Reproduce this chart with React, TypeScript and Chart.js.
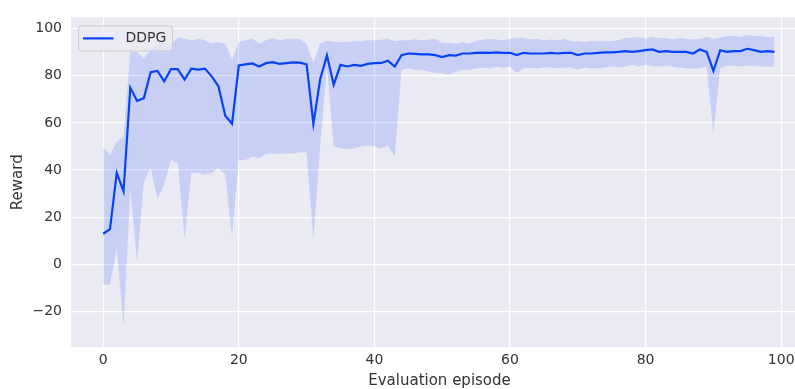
import React, { useEffect, useRef } from "react";
import { Chart, registerables } from "chart.js";

Chart.register(...registerables);

const episodes = [
  0, 1, 2, 3, 4, 5, 6, 7, 8, 9, 10, 11, 12, 13, 14, 15, 16, 17, 18, 19,
  20, 21, 22, 23, 24, 25, 26, 27, 28, 29, 30, 31, 32, 33, 34, 35, 36, 37, 38, 39,
  40, 41, 42, 43, 44, 45, 46, 47, 48, 49, 50, 51, 52, 53, 54, 55, 56, 57, 58, 59,
  60, 61, 62, 63, 64, 65, 66, 67, 68, 69, 70, 71, 72, 73, 74, 75, 76, 77, 78, 79,
  80, 81, 82, 83, 84, 85, 86, 87, 88, 89, 90, 91, 92, 93, 94, 95, 96, 97, 98, 99,
];

const meanReward = [
  13, 15, 38.8, 31, 74.9, 69.3, 70.5, 81.5, 82, 77.6,
  82.8, 82.8, 78.3, 83, 82.6, 83, 79.7, 75.5, 63, 59.6,
  84.3, 84.8, 85.2, 83.9, 85.3, 85.7, 85, 85.3, 85.6, 85.5,
  84.8, 59.6, 78.5, 88.6, 76.2, 84.6, 83.9, 84.6, 84.2, 85,
  85.3, 85.4, 86.3, 83.9, 88.7, 89.4, 89.2, 89, 89, 88.7,
  87.9, 88.7, 88.5, 89.4, 89.4, 89.7, 89.8, 89.7, 89.9, 89.7,
  89.7, 88.7, 89.7, 89.4, 89.4, 89.4, 89.7, 89.4, 89.7, 89.7,
  88.7, 89.4, 89.4, 89.7, 89.9, 89.9, 90.1, 90.4, 90.1, 90.4,
  90.8, 91.1, 90.1, 90.4, 90.1, 90.1, 90.1, 89.4, 91.1, 90.1,
  82, 90.8, 90.1, 90.4, 90.4, 91.4, 90.8, 90.1, 90.4, 90.1,
];

const upperReward = [
  50, 46.4, 52, 54, 90, 90, 87.4, 91, 93, 94.3,
  93, 96.4, 95.7, 95, 95.7, 95, 93.6, 94.3, 93.6, 86.7,
  94.3, 95, 95.7, 93.6, 95, 96, 95, 95.7, 95.7, 95.5,
  93.5, 85.5, 93.6, 94.8, 94.3, 94.3, 94.3, 94.6, 94.6, 95,
  95, 95.2, 95.7, 94.6, 95, 95, 95.4, 95, 95.2, 95.7,
  94, 94, 93.6, 94.3, 93.6, 94.6, 95.3, 95.5, 95.3, 95,
  95.7, 96, 96.1, 95.3, 95.7, 95, 95.3, 95, 95.7, 94.6,
  94.6, 94.3, 94.6, 94.6, 94.6, 94.6, 95, 96.1, 96.1, 96.4,
  95.7, 96.4, 96, 96, 95.4, 96, 95.7, 95.3, 95.7, 96.4,
  95.7, 96.1, 96.7, 96.9, 96.4, 97.1, 96.9, 96.7, 96.4, 96.4,
];

const lowerReward = [
  -8.5, -8.5, 6.8, -26, 32, 1, 35, 41, 27.6, 33.9,
  44.3, 42.9, 11, 38.7, 38.7, 38, 38.7, 40.8, 38, 11.7,
  44.3, 44.3, 45.7, 45, 46.8, 47, 46.8, 47, 47, 47.5,
  47.5, 10.5, 50, 84, 50, 49.2, 48.8, 49.2, 50, 50.3,
  50, 49.2, 50.3, 45.7, 82.5, 83.2, 82.5, 82.5, 81.8, 81.1,
  81.1, 80.4, 81.8, 82.5, 82.5, 83.2, 83.5, 83.2, 83.9, 83.5,
  83.9, 81.1, 83.2, 83.5, 83.2, 83.5, 83.5, 83.2, 83.5, 83.5,
  82.5, 83.5, 83.2, 83.2, 83.5, 83.9, 83.5, 83.9, 84.6, 83.9,
  84.6, 83.9, 83.9, 84.2, 83.9, 83.5, 83.2, 83, 83.2, 83.9,
  55.4, 83.2, 84.2, 84.2, 83.9, 84.2, 84.2, 83.9, 83.9, 83.9,
];

const xTicks = [0, 20, 40, 60, 80, 100];
const yTicks = [-20, 0, 20, 40, 60, 80, 100];
const seriesLabel = "DDPG";

const FONT = "'DejaVu Sans', sans-serif";
const LINE_COLOR = "#0a44f5";
const BAND_COLOR = "rgba(2, 62, 255, 0.15)";
const TEXT_COLOR = "#333333";

const bgPlugin = {
  id: "axesBg",
  beforeDraw(chart: any) {
    const { ctx, chartArea } = chart;
    ctx.save();
    ctx.fillStyle = "#EAEAF2";
    ctx.fillRect(chartArea.left, chartArea.top, chartArea.right - chartArea.left, chartArea.bottom - chartArea.top);
    ctx.restore();
  },
};

const legendPlugin = {
  id: "innerLegend",
  afterDraw(chart: any) {
    const { ctx, chartArea } = chart;
    const x = chartArea.left + 7.5;
    const y = chartArea.top + 8.5;
    const w = 94;
    const h = 25;
    ctx.save();
    ctx.beginPath();
    ctx.roundRect(x, y, w, h, 3);
    ctx.fillStyle = "rgba(234, 234, 242, 0.8)";
    ctx.fill();
    ctx.strokeStyle = "#cccccc";
    ctx.lineWidth = 1;
    ctx.stroke();
    ctx.beginPath();
    ctx.moveTo(x + 4.5, y + h / 2);
    ctx.lineTo(x + 35, y + h / 2);
    ctx.strokeStyle = LINE_COLOR;
    ctx.lineWidth = 2.2;
    ctx.stroke();
    ctx.fillStyle = TEXT_COLOR;
    ctx.font = `14px ${FONT}`;
    ctx.textBaseline = "middle";
    ctx.textAlign = "left";
    ctx.fillText(seriesLabel, x + 47, y + h / 2);
    ctx.restore();
  },
};

export default function App() {
  const ref = useRef<HTMLCanvasElement | null>(null);

  useEffect(() => {
    document.body.style.margin = "0";
    const canvas = ref.current;
    if (!canvas) return;
    const pts = (arr: number[]) => episodes.map((e, i) => ({ x: e, y: arr[i] }));
    const chart = new Chart(canvas, {
      type: "line",
      data: {
        datasets: [
          {
            label: "upper",
            data: pts(upperReward),
            borderWidth: 0,
            borderColor: "rgba(0,0,0,0)",
            backgroundColor: BAND_COLOR,
            pointRadius: 0,
            fill: "+1",
            tension: 0,
          },
          {
            label: "lower",
            data: pts(lowerReward),
            borderWidth: 0,
            borderColor: "rgba(0,0,0,0)",
            pointRadius: 0,
            fill: false,
            tension: 0,
          },
          {
            label: seriesLabel,
            data: pts(meanReward),
            borderColor: LINE_COLOR,
            borderWidth: 2.2,
            pointRadius: 0,
            fill: false,
            tension: 0,
          },
        ],
      },
      options: {
        animation: false,
        responsive: false,
        devicePixelRatio: 1,
        layout: { padding: { top: 12, left: 0, right: 0, bottom: 0 } },
        plugins: {
          legend: { display: false },
          tooltip: { enabled: false },
        },
        scales: {
          x: {
            type: "linear",
            min: -4.75,
            max: 103.95,
            afterBuildTicks: (s: any) => {
              s.ticks = xTicks.map((v) => ({ value: v }));
            },
            afterFit: (s: any) => {
              s.height = 42;
            },
            grid: { color: "#ffffff", lineWidth: 1.2, drawTicks: false },
            border: { display: false },
            ticks: {
              font: { family: FONT, size: 14 },
              color: TEXT_COLOR,
              padding: 5,
              maxRotation: 0,
              callback: (v: any) => String(v),
            },
            title: {
              display: true,
              text: "Evaluation episode",
              font: { family: FONT, size: 15, lineHeight: 1.0 },
              color: TEXT_COLOR,
              padding: { top: 0, bottom: 0 },
            },
          },
          y: {
            type: "linear",
            min: -35,
            max: 104.7,
            afterBuildTicks: (s: any) => {
              s.ticks = yTicks.map((v) => ({ value: v }));
            },
            afterFit: (s: any) => {
              s.width = 71;
            },
            grid: { color: "#ffffff", lineWidth: 1.2, drawTicks: false },
            border: { display: false },
            ticks: {
              font: { family: FONT, size: 14 },
              color: TEXT_COLOR,
              padding: 9,
              callback: (v: any) => (v < 0 ? "\u2212" + Math.abs(v) : String(v)),
            },
            title: {
              display: true,
              text: "Reward",
              font: { family: FONT, size: 15, lineHeight: 1.2 },
              color: TEXT_COLOR,
              padding: { top: 9, bottom: 0 },
            },
          },
        },
      },
      plugins: [bgPlugin, legendPlugin],
    });
    return () => chart.destroy();
  }, []);

  return (
    <div style={{ width: 795, height: 389, overflow: "hidden", background: "#ffffff" }}>
      <canvas ref={ref} width={808} height={389} style={{ display: "block" }} />
    </div>
  );
}
